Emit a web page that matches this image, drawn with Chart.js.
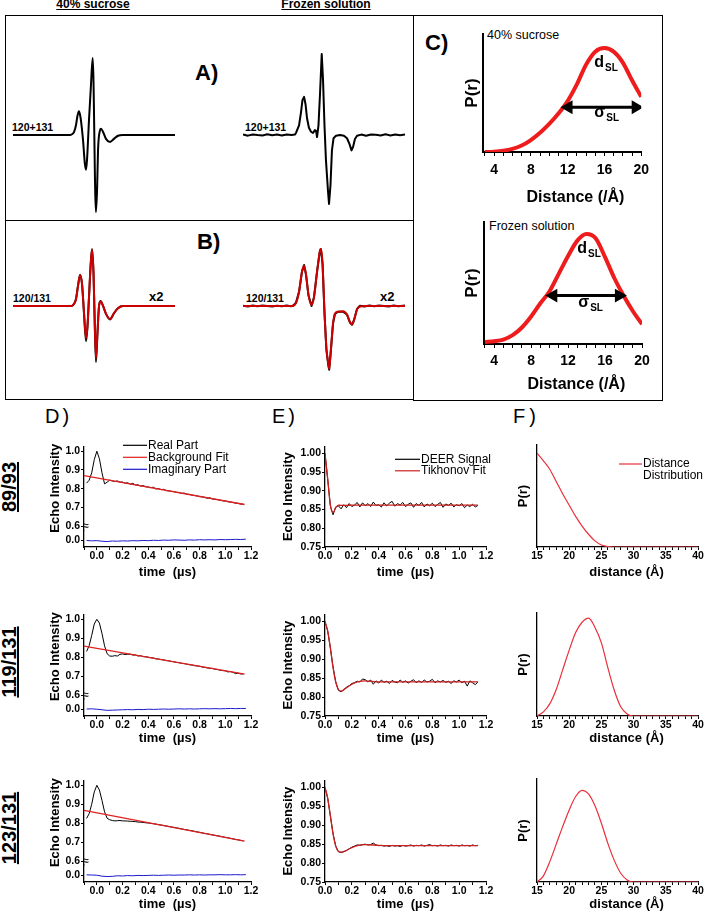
<!DOCTYPE html>
<html>
<head>
<meta charset="utf-8">
<title>Spin label spectra and DEER distances</title>
<script src="https://cdn.jsdelivr.net/npm/chart.js@4.4.1/dist/chart.umd.min.js"></script>
<style>
  body { margin: 0; width: 705px; height: 912px; background: #fff; position: relative; overflow: hidden;
         font-family: 'Liberation Sans', Arial, sans-serif; color: #000; }
  canvas { position: absolute; }
  .t { position: absolute; white-space: nowrap; line-height: 1; }
  .b { font-weight: bold; }
  .u { text-decoration: underline; }
  .frame { position: absolute; border: 1px solid #000; box-sizing: border-box; }
  .row { position: absolute; font-weight: bold; font-size: 20px; line-height: 1; text-decoration: underline;
         white-space: nowrap; transform: translate(-50%, -50%) rotate(-90deg); }
</style>
</head>
<body>
<div class="frame" style="left:5px;top:15px;width:409px;height:206px"></div>
<div class="frame" style="left:5px;top:220px;width:409px;height:180px"></div>
<div class="frame" style="left:413px;top:15px;width:250px;height:386px"></div>

<div class="t b u" style="left:93px;top:-2px;font-size:12px;transform:translateX(-50%)">40% sucrose</div>
<div class="t b u" style="left:326px;top:-2px;font-size:12px;transform:translateX(-50%)">Frozen solution</div>

<div class="t b" style="left:195px;top:62px;font-size:22px">A)</div>
<div class="t b" style="left:197px;top:231px;font-size:22px">B)</div>
<div class="t b" style="left:425px;top:32px;font-size:22px">C)</div>

<div class="t b" style="left:12px;top:122px;font-size:10.5px">120+131</div>
<div class="t b" style="left:245px;top:122px;font-size:10.5px">120+131</div>
<div class="t b" style="left:13px;top:293px;font-size:10.5px">120/131</div>
<div class="t b" style="left:246px;top:293px;font-size:10.5px">120/131</div>
<div class="t b" style="left:149px;top:290px;font-size:13px">x2</div>
<div class="t b" style="left:380px;top:290px;font-size:13px">x2</div>

<div class="t" style="left:487px;top:29px;font-size:12.5px">40% sucrose</div>
<div class="t" style="left:489px;top:220px;font-size:12.5px">Frozen solution</div>

<div class="t" style="left:45px;top:406px;font-size:20px;letter-spacing:3px">D)</div>
<div class="t" style="left:272px;top:406px;font-size:20px;letter-spacing:3px">E)</div>
<div class="t" style="left:513px;top:406px;font-size:20px;letter-spacing:4px">F)</div>

<div class="row" style="left:9px;top:487px">89/93</div>
<div class="row" style="left:9px;top:662px">119/131</div>
<div class="row" style="left:9px;top:828px">123/131</div>

<script>
// ---- A) cw spectra, 120+131 (field offset in G, normalised derivative) ----
var fieldSucA = [-50, -20, -15, -13.6, -12.3, -11.1, -10.2, -9.3, -8.6, -8.0, -6.8, -5.6, -4.9, -4.3, -3.1, -1.9, -0.8, 1.2, 1.9, 2.5, 3.7, 4.3, 5.6, 7.4, 9.9, 12.3, 14.8, 17.9, 50];
var specSucA = [0, 0, 0, 0.01, 0.04, 0.13, 0.25, 0.31, 0.26, 0.18, -0.06, -0.38, -0.45, -0.32, 0.19, 0.64, 1.0, -1.0, -0.71, -0.19, 0.06, 0.08, 0.04, -0.05, -0.09, -0.05, -0.01, 0, 0];
var fieldFrzA = [-50, -47, -44, -41, -38, -35, -32, -29, -26, -23, -20, -18, -17.3, -15.4, -14.2, -13.3, -12.3, -11.4, -10.5, -9.3, -8.0, -6.8, -5.6, -4.9, -4.3, -3.4, -2.5, -1.4, -0.6, 0.3, 1.2, 2.5, 3.1, 4.0, 4.9, 5.9, 7.4, 9.9, 12.3, 14.2, 15.7, 17.0, 17.9, 19.1, 20.4, 23, 26, 29, 32, 35, 38, 41, 44, 47, 50];
var specFrzA = [0.005, -0.008, 0.007, 0.0, -0.005, 0.008, -0.003, 0.005, -0.007, 0.005, 0.0, 0.005, 0.025, 0.12, 0.28, 0.43, 0.47, 0.38, 0.21, 0.09, 0.04, 0.025, 0.06, 0.05, -0.025, 0.12, 0.49, 1.0, 0.68, 0.12, -0.31, -0.70, -0.85, -0.62, -0.19, -0.04, -0.01, 0.0, -0.01, -0.04, -0.11, -0.19, -0.15, -0.05, -0.01, 0.005, -0.008, 0.005, 0.003, -0.005, 0.008, -0.005, 0.005, -0.003, 0.005];

// ---- B) 120/131 spectra (black) and fits (red) ----
var fieldSucB = [-50, -20, -13.8, -12.3, -11.1, -9.9, -8.6, -7.4, -6.2, -4.9, -4.0, -3.1, -1.9, -1.2, -0.3, 0.3, 1.2, 2.2, 3.1, 4.1, 5.6, 7.4, 9.9, 12.3, 14.8, 17.9, 50];
var specSucB = [0, 0, 0, 0.04, 0.13, 0.36, 0.56, 0.39, -0.12, -0.63, -0.36, 0.15, 0.81, 1.02, 0.58, -0.14, -1.0, -0.45, 0.0, 0.09, 0.0, -0.14, -0.24, -0.13, -0.04, 0, 0];
var fitSucB = [0, 0, 0, 0.04, 0.12, 0.35, 0.55, 0.40, -0.1, -0.57, -0.35, 0.15, 0.8, 1.0, 0.6, -0.1, -0.93, -0.45, 0.0, 0.08, 0.0, -0.14, -0.23, -0.13, -0.04, 0, 0];
var fieldFrzB = [-50, -47, -44, -41, -38, -35, -32, -29, -26, -23, -20.5, -19.1, -17.3, -15.4, -13.6, -12.3, -11.1, -9.6, -7.7, -6.2, -4.3, -2.5, -1.9, -0.9, 0.3, 1.5, 2.6, 3.2, 4.3, 5.6, 6.8, 8.6, 11.7, 14.2, 16.0, 17.3, 18.5, 20.4, 22.2, 25, 28, 31, 34, 37, 40, 43, 46, 50];
var specFrzB = [0.005, -0.008, 0.008, -0.005, 0.007, 0.0, -0.008, 0.005, -0.005, 0.008, -0.005, 0.005, 0.06, 0.25, 0.6, 0.72, 0.55, 0.19, 0.0, 0.15, 0.6, 0.97, 1.0, 0.74, -0.12, -0.77, -1.03, -1.12, -0.76, -0.3, -0.14, -0.1, -0.1, -0.15, -0.29, -0.33, -0.25, -0.05, 0.005, -0.008, 0.008, -0.005, 0.008, 0.0, -0.007, 0.008, -0.005, 0.007];
var fieldFrzBFit = [-50, -22, -19.1, -17.3, -15.4, -13.6, -12.3, -11.1, -9.6, -7.7, -6.2, -4.3, -2.5, -1.9, -0.9, 0.3, 1.5, 2.6, 3.2, 4.3, 5.6, 6.8, 8.6, 11.7, 14.2, 16.0, 17.3, 18.5, 20.4, 22.2, 25.3, 50];
var fitFrzB = [0, 0, 0.005, 0.05, 0.25, 0.6, 0.70, 0.55, 0.2, 0.02, 0.15, 0.6, 0.97, 1.0, 0.75, -0.1, -0.75, -1.0, -1.1, -0.75, -0.3, -0.13, -0.1, -0.09, -0.15, -0.28, -0.32, -0.25, -0.06, -0.01, 0, 0];

// ---- C) model distance distributions ----
var rC = [3, 4, 5, 6, 7, 8, 9, 10, 11, 12, 13, 14, 15, 16, 17, 18, 19, 20];
var prSuc = [0.0, 0.003, 0.012, 0.03, 0.062, 0.115, 0.185, 0.27, 0.37, 0.49, 0.65, 0.84, 0.965, 1.0, 0.965, 0.86, 0.69, 0.53];
var prFrz = [0.018, 0.025, 0.04, 0.08, 0.15, 0.25, 0.37, 0.48, 0.64, 0.80, 0.94, 1.0, 0.96, 0.79, 0.60, 0.44, 0.30, 0.18];
var sigmaSucX = [12.1, 19.4];
var sigmaFrzX = [10.4, 17.5];

// ---- D) echo decays: real part, background fit, imaginary part ----
var tDeer = [-0.08, -0.06, -0.04, -0.02, 0, 0.02, 0.04, 0.06, 0.08, 0.10, 0.12, 0.14, 0.16, 0.18, 0.20, 0.22, 0.24, 0.26, 0.28, 0.30, 0.32, 0.34, 0.36, 0.38, 0.40, 0.42, 0.44, 0.46, 0.48, 0.50, 0.52, 0.54, 0.56, 0.58, 0.60, 0.62, 0.64, 0.66, 0.68, 0.70, 0.72, 0.74, 0.76, 0.78, 0.80, 0.82, 0.84, 0.86, 0.88, 0.90, 0.92, 0.94, 0.96, 0.98, 1.00, 1.02, 1.04, 1.06, 1.08, 1.10, 1.12, 1.14];
var real8993 = [0.830, 0.845, 0.885, 0.955, 1.000, 0.960, 0.885, 0.826, 0.835, 0.846, 0.842, 0.838, 0.842, 0.835, 0.836, 0.829, 0.832, 0.824, 0.829, 0.820, 0.821, 0.814, 0.817, 0.811, 0.809, 0.806, 0.808, 0.799, 0.801, 0.795, 0.797, 0.790, 0.789, 0.786, 0.785, 0.781, 0.780, 0.775, 0.777, 0.771, 0.770, 0.766, 0.764, 0.762, 0.758, 0.757, 0.754, 0.749, 0.752, 0.745, 0.744, 0.742, 0.739, 0.736, 0.735, 0.731, 0.729, 0.727, 0.723, 0.722, 0.718, 0.718];
var real119 = [0.830, 0.860, 0.915, 0.975, 1.000, 0.980, 0.925, 0.860, 0.818, 0.806, 0.805, 0.808, 0.806, 0.815, 0.817, 0.814, 0.815, 0.816, 0.811, 0.812, 0.806, 0.808, 0.803, 0.802, 0.800, 0.797, 0.796, 0.791, 0.790, 0.787, 0.786, 0.782, 0.781, 0.777, 0.776, 0.772, 0.771, 0.767, 0.766, 0.763, 0.760, 0.759, 0.755, 0.754, 0.752, 0.748, 0.746, 0.743, 0.741, 0.741, 0.736, 0.735, 0.731, 0.729, 0.728, 0.722, 0.724, 0.720, 0.713, 0.716, 0.711, 0.712];
var real123 = [0.825, 0.850, 0.900, 0.965, 1.000, 0.975, 0.920, 0.860, 0.826, 0.818, 0.814, 0.812, 0.813, 0.814, 0.812, 0.812, 0.811, 0.810, 0.809, 0.808, 0.806, 0.805, 0.804, 0.802, 0.801, 0.799, 0.797, 0.795, 0.792, 0.790, 0.788, 0.785, 0.783, 0.780, 0.778, 0.775, 0.773, 0.770, 0.767, 0.765, 0.762, 0.760, 0.757, 0.754, 0.752, 0.749, 0.746, 0.744, 0.741, 0.738, 0.736, 0.733, 0.731, 0.728, 0.725, 0.723, 0.720, 0.717, 0.714, 0.712, 0.709, 0.707];
var tBg = [-0.1, 1.15];
var bg8993 = [0.870, 0.716];
var bg119 = [0.858, 0.710];
var bg123 = [0.868, 0.705];
var tImag = [-0.08, -0.04, 0, 0.04, 0.08, 0.12, 0.16, 0.20, 0.24, 0.28, 0.32, 0.36, 0.40, 0.44, 0.48, 0.52, 0.56, 0.60, 0.64, 0.68, 0.72, 0.76, 0.80, 0.84, 0.88, 0.92, 0.96, 1.00, 1.04, 1.08, 1.12, 1.16];
var imag8993 = [-0.002, -0.004, -0.003, -0.006, -0.008, -0.005, -0.006, -0.004, -0.005, -0.003, -0.004, -0.002, -0.003, -0.001, -0.002, 0.000, -0.001, 0.001, 0.000, -0.001, 0.001, 0.000, 0.002, 0.001, 0.002, 0.001, 0.003, 0.002, 0.003, 0.004, 0.003, 0.005];
var imag119 = [0.000, 0.001, -0.001, -0.004, -0.007, -0.006, -0.005, -0.004, -0.003, -0.004, -0.002, -0.003, -0.001, -0.002, -0.001, 0.000, -0.001, 0.000, 0.001, 0.000, 0.001, 0.000, 0.001, 0.002, 0.001, 0.002, 0.001, 0.002, 0.003, 0.002, 0.003, 0.003];
var imag123 = [0.001, 0.000, -0.001, -0.006, -0.008, -0.007, -0.004, -0.005, -0.003, -0.004, -0.002, -0.003, -0.002, -0.001, -0.002, -0.001, 0.000, -0.001, 0.000, 0.000, 0.001, 0.000, 0.001, 0.000, 0.001, 0.001, 0.002, 0.001, 0.001, 0.002, 0.001, 0.002];

// ---- E) background-corrected DEER signal and Tikhonov fit ----
var tSig = [0, 0.02, 0.04, 0.06, 0.08, 0.10, 0.12, 0.14, 0.16, 0.18, 0.20, 0.22, 0.24, 0.26, 0.28, 0.30, 0.32, 0.34, 0.36, 0.38, 0.40, 0.42, 0.44, 0.46, 0.48, 0.50, 0.52, 0.54, 0.56, 0.58, 0.60, 0.62, 0.64, 0.66, 0.68, 0.70, 0.72, 0.74, 0.76, 0.78, 0.80, 0.82, 0.84, 0.86, 0.88, 0.90, 0.92, 0.94, 0.96, 0.98, 1.00, 1.02, 1.04, 1.06, 1.08, 1.10, 1.12, 1.14];
var sig8993 = [1.000, 0.932, 0.860, 0.836, 0.857, 0.860, 0.852, 0.863, 0.855, 0.866, 0.858, 0.862, 0.869, 0.857, 0.868, 0.860, 0.866, 0.858, 0.870, 0.861, 0.863, 0.857, 0.868, 0.860, 0.867, 0.872, 0.859, 0.866, 0.862, 0.869, 0.858, 0.864, 0.868, 0.856, 0.866, 0.861, 0.869, 0.857, 0.865, 0.860, 0.867, 0.858, 0.864, 0.869, 0.856, 0.865, 0.861, 0.867, 0.857, 0.863, 0.860, 0.866, 0.855, 0.862, 0.858, 0.864, 0.857, 0.861];
var sig119 = [1.000, 0.975, 0.930, 0.880, 0.840, 0.818, 0.814, 0.820, 0.826, 0.830, 0.836, 0.838, 0.842, 0.840, 0.848, 0.846, 0.840, 0.845, 0.834, 0.843, 0.837, 0.845, 0.839, 0.842, 0.836, 0.844, 0.840, 0.838, 0.845, 0.839, 0.843, 0.837, 0.842, 0.846, 0.838, 0.843, 0.839, 0.845, 0.840, 0.842, 0.847, 0.838, 0.843, 0.840, 0.844, 0.839, 0.842, 0.836, 0.843, 0.840, 0.845, 0.838, 0.842, 0.829, 0.843, 0.838, 0.833, 0.840];
var sig123 = [1.000, 0.972, 0.925, 0.878, 0.845, 0.830, 0.828, 0.830, 0.833, 0.838, 0.842, 0.845, 0.848, 0.847, 0.849, 0.850, 0.848, 0.849, 0.853, 0.848, 0.846, 0.847, 0.845, 0.846, 0.844, 0.847, 0.845, 0.846, 0.844, 0.847, 0.845, 0.846, 0.848, 0.845, 0.847, 0.846, 0.848, 0.845, 0.847, 0.849, 0.846, 0.847, 0.845, 0.848, 0.846, 0.847, 0.845, 0.848, 0.846, 0.847, 0.845, 0.848, 0.846, 0.847, 0.845, 0.848, 0.846, 0.847];
var tTik = [0, 0.02, 0.04, 0.06, 0.08, 0.10, 0.12, 0.15, 0.20, 0.25, 0.30, 0.40, 0.50, 0.70, 0.90, 1.14];
var tik8993 = [1.0, 0.932, 0.862, 0.842, 0.855, 0.862, 0.861, 0.861, 0.862, 0.862, 0.862, 0.862, 0.862, 0.862, 0.862, 0.862];
var tik119 = [1.0, 0.975, 0.930, 0.878, 0.840, 0.820, 0.816, 0.822, 0.834, 0.841, 0.843, 0.840, 0.840, 0.840, 0.840, 0.840];
var tik123 = [1.0, 0.972, 0.925, 0.877, 0.845, 0.831, 0.829, 0.832, 0.841, 0.847, 0.849, 0.847, 0.846, 0.846, 0.846, 0.846];

// ---- F) distance distributions ----
var rF = [15, 16, 17, 18, 19, 20, 21, 22, 23, 24, 25, 26, 27, 28, 29, 30, 35, 40];
var pr8993 = [0.92, 0.845, 0.76, 0.64, 0.52, 0.41, 0.30, 0.205, 0.125, 0.06, 0.02, 0.004, 0, 0, 0, 0, 0, 0];
var pr119 = [0, 0.04, 0.12, 0.26, 0.45, 0.64, 0.81, 0.91, 0.95, 0.86, 0.71, 0.47, 0.25, 0.09, 0.02, 0, 0, 0];
var pr123 = [0, 0.06, 0.2, 0.37, 0.54, 0.70, 0.83, 0.89, 0.855, 0.74, 0.57, 0.375, 0.21, 0.085, 0.02, 0, 0, 0];

var FAM = "'Liberation Sans', Arial, sans-serif";
Chart.defaults.font.family = FAM;
Chart.defaults.color = '#000';
Chart.defaults.animation = false;

var ROWS = [{top: 445, bottom: 547, title: 572}, {top: 613, bottom: 716, title: 738}, {top: 779, bottom: 882, title: 904}];

function addCanvas(x0, y0, x1, y1) {
  var c = document.createElement('canvas');
  c.width = x1 - x0;
  c.height = y1 - y0;
  c.style.left = x0 + 'px';
  c.style.top = y0 + 'px';
  document.body.appendChild(c);
  return c;
}

function pts(xs, ys) {
  return xs.map(function (x, i) { return {x: x, y: ys[i]}; });
}

function evenTenths(v) {
  return Math.round(v * 10) % 2 === 0 ? v.toFixed(1) : '';
}

function baseOptions(pad, scales) {
  return {
    responsive: false,
    events: [],
    layout: {padding: pad, autoPadding: false},
    plugins: {legend: {display: false}, tooltip: {enabled: false}},
    elements: {point: {radius: 0, hoverRadius: 0}, line: {borderWidth: 1}},
    scales: scales
  };
}

// legend drawn inside the plot: short line + label, one row per dataset
function lineLegend(dx, dy, rowH, lineW) {
  return {
    id: 'lineLegend',
    afterDatasetsDraw: function (chart) {
      var ctx = chart.ctx, a = chart.chartArea, y = a.top + dy;
      ctx.save();
      ctx.font = '12px ' + FAM;
      ctx.textBaseline = 'middle';
      ctx.fillStyle = '#000';
      chart.data.datasets.forEach(function (ds) {
        if (!ds.label) return;
        ctx.strokeStyle = ds.borderColor;
        ctx.lineWidth = 1.2;
        ctx.beginPath();
        ctx.moveTo(a.left + dx, y);
        ctx.lineTo(a.left + dx + lineW, y);
        ctx.stroke();
        var lines = ds.label.split('\n');
        lines.forEach(function (line, i) {
          ctx.fillText(line, a.left + dx + lineW + 1, y + i * rowH);
        });
        y += rowH * lines.length;
      });
      ctx.restore();
    }
  };
}

function notesPlugin(items) {
  return {
    id: 'notes',
    afterDatasetsDraw: function (chart) {
      var ctx = chart.ctx, xs = chart.scales.x, ys = chart.scales.y;
      ctx.save();
      ctx.fillStyle = '#000';
      ctx.textBaseline = 'alphabetic';
      items.forEach(function (n) {
        var px = xs.getPixelForValue(n.x), py = ys.getPixelForValue(n.y);
        ctx.font = 'bold 16px ' + FAM;
        ctx.fillText(n.main, px, py);
        var w = ctx.measureText(n.main).width;
        ctx.font = 'bold 10px ' + FAM;
        ctx.fillText(n.sub, px + w + 1, py + 4);
      });
      ctx.restore();
    }
  };
}

function breakMark() {
  return {
    id: 'breakMark',
    afterDraw: function (chart) {
      var ctx = chart.ctx, y = chart.scales.y.getPixelForValue(0.6);
      ctx.save();
      ctx.font = 'bold 10px ' + FAM;
      ctx.fillStyle = '#000';
      ctx.textAlign = 'center';
      ctx.textBaseline = 'middle';
      ctx.fillText('\u2248', chart.chartArea.left + 2, y);
      ctx.restore();
    }
  };
}

// noisy frozen-solution traces are drawn with straight segments, the smooth ones with monotone curves
function createSpectrum(box, yRange, sets) {
  var c = addCanvas(box[0], box[1], box[2], box[3]);
  new Chart(c, {
    type: 'line',
    data: {
      datasets: sets.map(function (s, i) {
        var ds = {data: pts(s.x, s.y), borderColor: s.color, borderWidth: 2, pointRadius: 0,
                  clip: 6, order: sets.length - i, borderJoinStyle: 'round'};
        if (s.noisy) ds.tension = 0;
        else ds.cubicInterpolationMode = 'monotone';
        return ds;
      })
    },
    options: baseOptions(0, {
      x: {type: 'linear', display: false, min: -50, max: 50},
      y: {display: false, min: yRange[0], max: yRange[1]}
    })
  });
}

// leading no-break spaces nudge a centred axis title to the right, as in the original figure
function nudged(text, n) {
  return '\u00a0'.repeat(n) + text;
}

function createModel(box, area, xMin, yMax, p, arrowX, arrowY, notes, tickPad) {
  var c = addCanvas(box[0], box[1], box[2], box[3]);
  var yw = area[0] - box[0], xh = box[3] - area[3];
  new Chart(c, {
    type: 'line',
    data: {
      datasets: [
        {data: pts(rC, p), borderColor: '#ee1c1c', borderWidth: 4, pointRadius: 0,
         cubicInterpolationMode: 'monotone', order: 1},
        {data: pts(arrowX, [arrowY, arrowY]), borderColor: '#000', borderWidth: 3,
         pointRadius: 5, pointHoverRadius: 5, pointStyle: 'triangle', pointRotation: [270, 90],
         pointBackgroundColor: '#000', pointBorderColor: '#000', order: 0}
      ]
    },
    options: baseOptions({top: area[1] - box[1], right: box[2] - area[2], left: 0, bottom: 0}, {
      x: {
        type: 'linear', min: xMin, max: 20,
        afterFit: function (s) { s.height = xh; },
        border: {color: '#000', width: 2},
        grid: {drawOnChartArea: false, color: '#000', tickLength: 4},
        ticks: {stepSize: 1, autoSkip: false, includeBounds: false, maxRotation: 0, minRotation: 0, padding: tickPad,
                font: {size: 14, weight: 'bold'},
                callback: function (v) { return v % 4 === 0 ? v : ''; }},
        title: {display: true, text: nudged('Distance (/\u00c5)', 6), font: {size: 16, weight: 'bold'}, padding: 0}
      },
      y: {
        min: 0, max: yMax,
        afterFit: function (s) { s.width = yw; },
        border: {color: '#000', width: 2},
        grid: {drawOnChartArea: false, drawTicks: false},
        ticks: {display: false},
        title: {display: true, text: 'P(r)', font: {size: 17, weight: 'bold'}, padding: 0}
      }
    }),
    plugins: [notesPlugin(notes)]
  });
}

var tickFont = {size: 10.5, weight: 'bold'};
var titleFont = {size: 13, weight: 'bold'};

function timeAxis(min, xh) {
  return {
    type: 'linear', min: min, max: 1.2,
    afterFit: function (s) { s.height = xh; },
    border: {color: '#000', width: 1.3},
    grid: {drawOnChartArea: false, color: '#000', tickLength: 3},
    ticks: {stepSize: 0.1, autoSkip: false, includeBounds: false, maxRotation: 0, minRotation: 0, padding: 0,
            font: tickFont, callback: evenTenths},
    title: {display: true, text: 'time  (\u00b5s)', font: titleFont, padding: 0}
  };
}

function valueAxis(extra) {
  var axis = {
    border: {color: '#000', width: 1.3},
    grid: {drawOnChartArea: false, color: '#000', tickLength: 3},
    ticks: {autoSkip: false, includeBounds: false, padding: 1, font: tickFont}
  };
  Object.keys(extra).forEach(function (k) {
    if (k === 'ticks') Object.assign(axis.ticks, extra.ticks);
    else axis[k] = extra[k];
  });
  return axis;
}

function createEcho(row, real, bg, imag, legend) {
  var box = [48, row.top - 6, 262, Math.round(row.title + 8)];
  var c = addCanvas(box[0], box[1], box[2], box[3]);
  var yw = 84 - box[0], xh = box[3] - row.bottom;
  var plugins = [breakMark()];
  if (legend) plugins.push(lineLegend(39, -1, 12, 24));
  new Chart(c, {
    type: 'line',
    data: {
      datasets: [
        {label: 'Real Part', data: pts(tDeer, real), borderColor: '#000', yAxisID: 'y', order: 2},
        {label: 'Background Fit', data: pts(tBg, bg), borderColor: '#e02020', borderWidth: 1.3, yAxisID: 'y', order: 1},
        {label: 'Imaginary Part', data: pts(tImag, imag), borderColor: '#1a1acc', yAxisID: 'yLow', order: 0}
      ]
    },
    options: baseOptions({top: 6, right: box[2] - 251, left: 0, bottom: 0}, {
      x: timeAxis(-0.1, xh),
      yLow: valueAxis({
        type: 'linear', position: 'left', stack: 'echo', stackWeight: 17, weight: 0,
        min: -0.0368, max: 0.0526,
        afterFit: function (s) { s.width = yw; },
        ticks: {stepSize: 0.1, callback: function (v) { return v.toFixed(1); }}
      }),
      y: valueAxis({
        type: 'linear', position: 'left', stack: 'echo', stackWeight: 85, weight: 1,
        min: 0.5789, max: 1.0263,
        afterFit: function (s) { s.width = yw; },
        ticks: {stepSize: 0.1, callback: function (v) { return v.toFixed(1); }},
        title: {display: true, text: 'Echo Intensity', font: titleFont, padding: 0}
      })
    }),
    plugins: plugins
  });
}

function createDeer(row, sig, tik, legend) {
  var box = [281, row.top - 6, 495, Math.round(row.title + 8)];
  var c = addCanvas(box[0], box[1], box[2], box[3]);
  var yw = 325 - box[0], xh = box[3] - row.bottom;
  new Chart(c, {
    type: 'line',
    data: {
      datasets: [
        {label: 'DEER Signal', data: pts(tSig, sig), borderColor: '#000', order: 1},
        {label: 'Tikhonov Fit', data: pts(tTik, tik), borderColor: '#cc1f1f', borderWidth: 1.3,
         cubicInterpolationMode: 'monotone', order: 0}
      ]
    },
    options: baseOptions({top: 6, right: box[2] - 486, left: 0, bottom: 0}, {
      x: timeAxis(0, xh),
      y: valueAxis({
        min: 0.75, max: 1.019,
        afterFit: function (s) { s.width = yw; },
        ticks: {stepSize: 0.05, callback: function (v) { return v.toFixed(2); }},
        title: {display: true, text: 'Echo Intensity', font: titleFont, padding: 0}
      })
    }),
    plugins: legend ? [lineLegend(70, 13, 11.5, 25)] : []
  });
}

function createPr(row, p, legend) {
  var box = [516, row.top - 6, 705, Math.round(row.title + 8)];
  var c = addCanvas(box[0], box[1], box[2], box[3]);
  var yw = 537 - box[0], xh = box[3] - row.bottom;
  new Chart(c, {
    type: 'line',
    data: {
      datasets: [
        {label: 'Distance\nDistribution', data: pts(rF, p), borderColor: '#e8303a', borderWidth: 1.2,
         cubicInterpolationMode: 'monotone'}
      ]
    },
    options: baseOptions({top: 6, right: box[2] - 698, left: 0, bottom: 0}, {
      x: {
        type: 'linear', min: 15, max: 40,
        afterFit: function (s) { s.height = xh; },
        border: {color: '#000', width: 1.3},
        grid: {drawOnChartArea: false, color: '#000', tickLength: 3},
        ticks: {stepSize: 1, autoSkip: false, maxRotation: 0, minRotation: 0, padding: 0, font: tickFont,
                callback: function (v) { return v % 5 === 0 ? v : ''; }},
        title: {display: true, text: nudged('distance (\u00c5)', 5), font: titleFont, padding: 0}
      },
      y: {
        min: 0, max: 1,
        afterFit: function (s) { s.width = yw; },
        border: {color: '#000', width: 1.3},
        grid: {drawOnChartArea: false, drawTicks: false},
        ticks: {display: false},
        title: {display: true, text: 'P(r)', font: titleFont, padding: 0}
      }
    }),
    plugins: legend ? [lineLegend(82, 19, 11.5, 23)] : []
  });
}

// A and B panels
createSpectrum([13, 50, 175, 220], [-1.104, 1.104], [{x: fieldSucA, y: specSucA, color: '#000'}]);
createSpectrum([243, 50, 405, 220], [-1.049, 1.049], [{x: fieldFrzA, y: specFrzA, color: '#000', noisy: true}]);
createSpectrum([13, 236, 175, 386], [-1.4286, 1.25], [
  {x: fieldSucB, y: specSucB, color: '#111'},
  {x: fieldSucB, y: fitSucB, color: '#cc0000'}
]);
createSpectrum([243, 236, 405, 386], [-1.4035, 1.228], [
  {x: fieldFrzB, y: specFrzB, color: '#111', noisy: true},
  {x: fieldFrzBFit, y: fitFrzB, color: '#cc0000'}
]);

// C panel
createModel([462, 28, 655, 207], [483, 34, 642, 152], 2.8, 1.135, prSuc, sigmaSucX, 0.43,
  [{x: 14.9, y: 0.817, main: 'd', sub: 'SL'}, {x: 14.9, y: 0.337, main: '\u03c3', sub: 'SL'}], 6);
createModel([462, 216, 655, 394], [484, 222, 642, 344], 2.9, 1.109, prFrz, sigmaFrzX, 0.44,
  [{x: 13.0, y: 0.827, main: 'd', sub: 'SL'}, {x: 13.1, y: 0.336, main: '\u03c3', sub: 'SL'}], 5);

// D, E, F rows
createEcho(ROWS[0], real8993, bg8993, imag8993, true);
createEcho(ROWS[1], real119, bg119, imag119, false);
createEcho(ROWS[2], real123, bg123, imag123, false);

createDeer(ROWS[0], sig8993, tik8993, true);
createDeer(ROWS[1], sig119, tik119, false);
createDeer(ROWS[2], sig123, tik123, false);

createPr(ROWS[0], pr8993, true);
createPr(ROWS[1], pr119, false);
createPr(ROWS[2], pr123, false);
</script>
</body>
</html>
